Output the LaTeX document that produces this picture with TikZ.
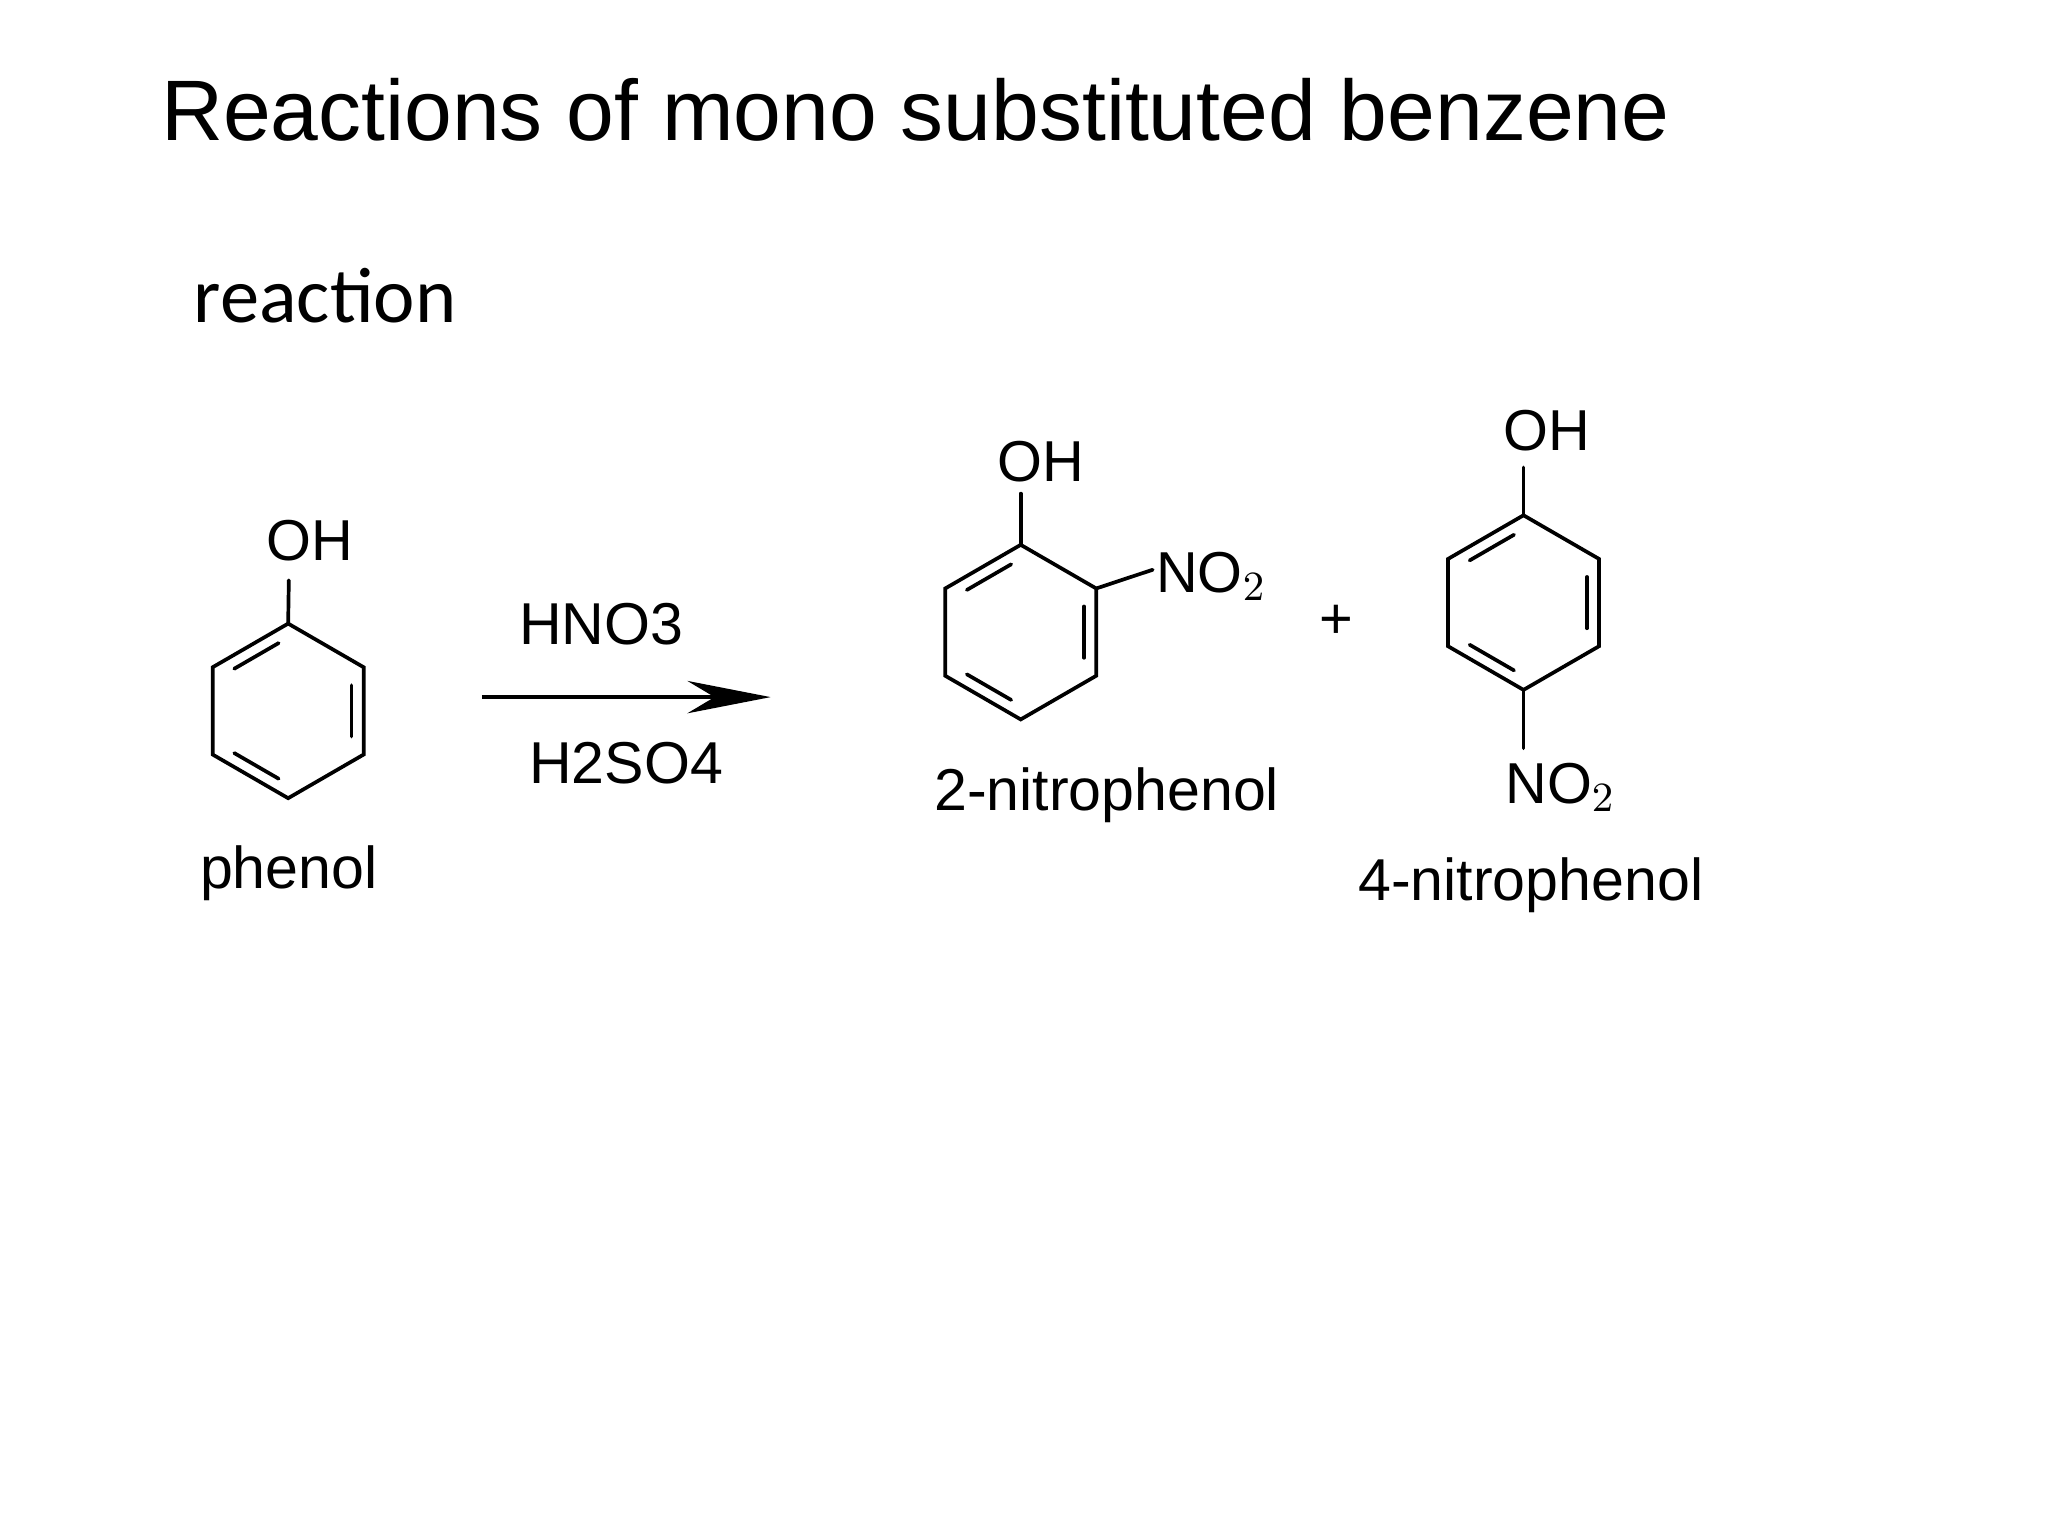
\documentclass[tikz,border=0pt]{standalone}
\usepackage{fontspec}
\setmainfont{Liberation Sans}
\newfontfamily\calib{Carlito}
\usetikzlibrary{calc,arrows.meta}
\tikzset{bond/.style={line width=0.8pt,line cap=round},
 chem/.style={font=\fontsize{12.5}{14}\selectfont,inner sep=0pt},
 lbl/.style={font=\fontsize{12.8}{15}\selectfont,inner sep=0pt}}
\newcommand{\ringdraw}[3]{% name, cx, cy (top vertex at cy-66.5)
 \coordinate (#1T) at (#2,#3-66.5);
 \coordinate (#1UR) at (#2+57.5,#3-33.25);
 \coordinate (#1LR) at (#2+57.5,#3+33.25);
 \coordinate (#1B) at (#2,#3+66.5);
 \coordinate (#1LL) at (#2-57.5,#3+33.25);
 \coordinate (#1UL) at (#2-57.5,#3-33.25);
 \coordinate (#1C) at (#2,#3);
 \draw[bond] (#1T)--(#1UR)--(#1LR)--(#1B)--(#1LL)--(#1UL)--cycle;
 \draw[bond] ($(#1T)!0.15!(#1UL)!0.16!(#1C)$)--($(#1UL)!0.15!(#1T)!0.16!(#1C)$);
 \draw[bond] ($(#1UR)!0.15!(#1LR)!0.16!(#1C)$)--($(#1LR)!0.15!(#1UR)!0.16!(#1C)$);
 \draw[bond] ($(#1LL)!0.15!(#1B)!0.16!(#1C)$)--($(#1B)!0.15!(#1LL)!0.16!(#1C)$);
}
\begin{document}
\begin{tikzpicture}[x=0.01cm,y=-0.01cm]
\useasboundingbox (0,0) rectangle (1560,1170);
\node[anchor=base west,inner sep=0pt,font=\fontsize{18.6}{22}\selectfont] (title) at (122,107) {Reactions of mono substituted benzene};
\node[anchor=base west,inner sep=0pt,font=\calib\fontsize{17}{20}\selectfont] (rx) at (147,246) {reaction};
% phenol
\ringdraw{p}{219.5}{541.5}
\node[chem,anchor=base] (pOH) at (236,427) {OH};
\draw[bond] (pT)--(220,442);
\node[lbl,anchor=base] (pname) at (220,677) {phenol};
% arrow
\node[lbl,anchor=base] (hno) at (458,491) {HNO3};
\node[lbl,anchor=base] (hso) at (477,597) {H2SO4};
\coordinate (a1) at (367,531); \coordinate (a2) at (587,531);
\draw[line width=1pt,-{Stealth[length=18pt,width=7pt]}] (a1)--(a2);
% 2-nitrophenol
\ringdraw{o}{777.5}{481.5}
\draw[bond] (oT)--(777.5,376);
\node[chem,anchor=base] (oOH) at (793,367) {OH};
\draw[bond] (oUR)--(878,434);
\node[chem,anchor=base west] (oNO) at (880,451) {NO$_2$};
\node[lbl,anchor=base] (oname) at (843,617) {2-nitrophenol};
\node[chem,anchor=base] (plus) at (1018,486) {+};
% 4-nitrophenol
\ringdraw{q}{1160.5}{459}
\draw[bond] (qT)--(1160.5,356);
\node[chem,anchor=base] (qOH) at (1178,343) {OH};
\draw[bond] (qB)--(1160.5,570);
\node[chem,anchor=base west] (qNO) at (1146,612) {NO$_2$};
\node[lbl,anchor=base] (qname) at (1166,686) {4-nitrophenol};
\end{tikzpicture}
\end{document}
